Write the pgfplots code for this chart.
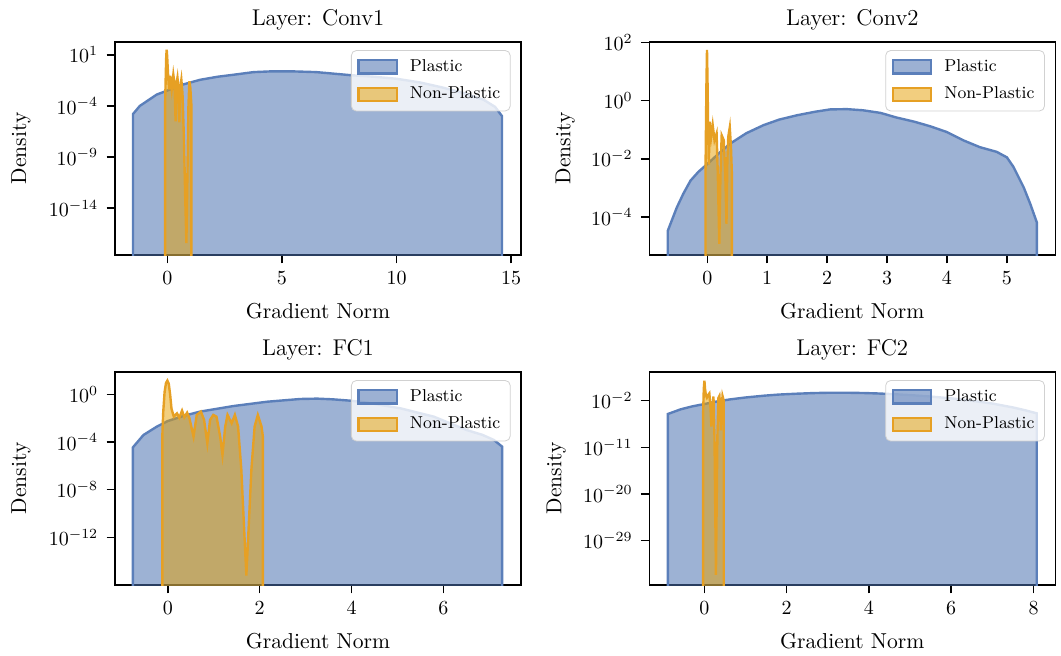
\documentclass[border=0pt]{standalone}
\usepackage{pgfplots}
\pgfplotsset{compat=1.18}
\definecolor{pline}{HTML}{5B7FBA}
\definecolor{pfill}{HTML}{4C72B0}
\definecolor{oline}{HTML}{E6A024}
\definecolor{ofill}{HTML}{E69F00}
\pgfplotsset{
  every axis/.append style={
    scale only axis, width=203pt, height=106.65pt, anchor=south west,
    yminorticks=false, xminorticks=false,
    tick pos=left, tick align=outside, major tick length=4.2pt,
    every tick/.style={black, line width=0.8pt},
    axis line style={line width=0.8pt},
    tick label style={font=\fontsize{10}{12}\selectfont},
    xticklabel style={anchor=base, inner sep=0pt, yshift=-10.5pt},
    yticklabel style={anchor=east, inner sep=0pt, xshift=-4pt},
    every axis title shift=0pt,
    title style={at={(axis description cs:0.5,1.078)}, anchor=base, yshift=0pt, font=\fontsize{11.4}{13}\selectfont},
    xlabel style={at={(axis description cs:0.5,-0.297)}, anchor=base, font=\fontsize{10.8}{12}\selectfont},
    ylabel style={at={(axis description cs:-0.219,0.5)}, anchor=base, font=\fontsize{10.8}{12}\selectfont},
    xlabel={Gradient Norm}, ylabel={Density},
    legend style={at={(rel axis cs:1,1)}, anchor=north east, xshift=-5.2pt, yshift=-4.2pt,
      draw=black!18, rounded corners=2.5pt, fill=white, fill opacity=0.8, draw opacity=1, text opacity=1,
      font=\fontsize{8.6}{10}\selectfont, inner xsep=3pt, inner ysep=2.5pt, row sep=2.3pt,
      cells={anchor=west}, /tikz/every odd column/.append style={column sep=3.9pt}},
    legend image code/.code={\draw[#1, sharp corners] (0pt,-3.35pt) rectangle (19.2pt,3.35pt);},
  },
  plastic/.style={draw=pline, line width=1.2pt, fill=pfill, fill opacity=0.55},
  nonplastic/.style={draw=oline, line width=1.2pt, fill=ofill, fill opacity=0.5},
}
\begin{document}
\begin{tikzpicture}
\useasboundingbox (0,0) rectangle (530.5pt,327.5pt);
% ---------------- Conv1
\begin{axis}[ymode=log, at={(57.5pt,200pt)}, title={Layer: Conv1},
  xmin=-2.285, xmax=15.43, ymin=2.69e-19, ymax=186.2,
  xtick={0,5,10,15}, ytick={1e1,1e-4,1e-9,1e-14}]
\addplot[plastic] coordinates {
(-1.5,1e-25) (-1.5,1.585e-5) (-1.2,1e-4) (-0.8,3.981e-4) (-0.47,1.259e-3) (0,3.162e-3)
(0.7,1.259e-2) (1.43,3.548e-2) (2.2,7.079e-2) (2.88,0.1096) (3.76,0.1995) (4.5,0.2344)
(5.5,0.2344) (6.5,0.1995) (8,0.1) (9,0.07079) (10,0.04467) (11,0.01995) (12,6.31e-3)
(13,1.585e-3) (13.8,3.981e-4) (14.3,7.943e-5) (14.6,1e-5) (14.6,1e-25)};
\addlegendentry{Plastic}
\addplot[nonplastic] coordinates {
(-0.1,1e-25) (-0.1,1e-4) (-0.07,0.1) (-0.05,6.31) (-0.03,30.9) (-0.01,7.943) (0.02,0.3162)
(0.07,3.981e-3) (0.12,0.08913) (0.19,3.981e-3) (0.26,0.1096) (0.31,0.01585) (0.36,3.162e-6)
(0.40,0.01585) (0.44,0.05623) (0.48,6.31e-3) (0.52,2.512e-6) (0.56,6.31e-3) (0.61,0.03548)
(0.66,1.585e-3) (0.72,1e-7) (0.78,1e-13) (0.83,3.981e-18) (0.88,1e-10) (0.92,1e-4)
(0.96,0.02512) (1.0,6.31e-3) (1.05,1e-4) (1.05,1e-25)};
\addlegendentry{Non-Plastic}
\end{axis}
% ---------------- Conv2
\begin{axis}[ymode=log, at={(324.65pt,200pt)}, title={Layer: Conv2},
  ylabel style={at={(axis description cs:-0.1946,0.5)}},
  xmin=-0.968, xmax=5.808, ymin=4.9e-6, ymax=107.2,
  xtick={0,1,2,3,4,5}, ytick={1e2,1e0,1e-2,1e-4}]
\addplot[plastic] coordinates {
(-0.66,1e-8) (-0.66,3.311e-5) (-0.51,2.089e-4) (-0.4,6.31e-4) (-0.28,1.778e-3) (-0.15,3.548e-3)
(0,6.607e-3) (0.2,0.01585) (0.38,0.03311) (0.65,0.07586) (0.94,0.1445) (1.2,0.2239)
(1.5,0.3162) (1.8,0.4169) (2.05,0.5012) (2.33,0.5129) (2.6,0.4677) (2.89,0.3802)
(3.16,0.263) (3.45,0.1905) (3.72,0.1318) (4.0,0.08318) (4.28,0.04266) (4.55,0.02512)
(4.83,0.01738) (5.0,0.01122) (5.11,5.248e-3) (5.28,1.047e-3) (5.39,2.818e-4) (5.5,6.457e-5)
(5.5,1e-8)};
\addlegendentry{Plastic}
\addplot[nonplastic] coordinates {
(-0.03,1e-8) (-0.03,3.162e-3) (-0.015,3.162) (-0.005,56.23) (0.005,3.162) (0.012,0.2138)
(0.025,6.31e-3) (0.04,0.1905) (0.065,0.05754) (0.09,0.1445) (0.12,0.04365) (0.155,0.07413)
(0.175,3.162e-3) (0.20,1.175e-5) (0.22,3.162e-3) (0.24,0.06457) (0.275,0.04365)
(0.30,3.162e-3) (0.32,5.754e-5) (0.335,0.01) (0.35,0.05754) (0.375,0.1202) (0.395,0.02512)
(0.41,3.162e-3) (0.41,1e-8)};
\addlegendentry{Non-Plastic}
\end{axis}
% ---------------- FC1
\begin{axis}[ymode=log, at={(57.5pt,35pt)}, title={Layer: FC1},
  xmin=-1.15, xmax=7.69, ymin=1e-16, ymax=79.4,
  xtick={0,2,4,6}, ytick={1e0,1e-4,1e-8,1e-12}]
\addplot[plastic] coordinates {
(-0.76,1e-20) (-0.76,3.548e-5) (-0.53,3.89e-4) (-0.24,1.95e-3) (0,5.754e-3) (0.35,0.01585)
(0.7,0.03548) (1.43,0.1047) (2.16,0.2399) (2.88,0.4074) (3.25,0.4365) (3.6,0.3802)
(3.97,0.2951) (4.34,0.1995) (5.06,0.06761) (5.79,0.01349) (6.51,1e-3) (6.85,3.981e-4)
(7.1,1.479e-4) (7.28,4.074e-5) (7.28,1e-20)};
\addlegendentry{Plastic}
\addplot[nonplastic] coordinates {
(-0.12,1e-20) (-0.12,2.818e-4) (-0.10,0.03162) (-0.07,1.585) (-0.04,8.913) (-0.01,14.13)
(0.02,7.943) (0.05,1) (0.08,0.0631) (0.13,0.01349) (0.20,0.02512) (0.25,0.01096)
(0.31,0.04266) (0.36,0.01175) (0.42,0.02884) (0.47,0.01) (0.56,2.818e-4) (0.63,0.01862)
(0.72,0.03548) (0.79,7.079e-3) (0.86,7.762e-5) (0.92,7.079e-3) (0.99,0.01862) (1.06,0.01349)
(1.14,2.818e-4) (1.19,8.128e-6) (1.25,1.995e-3) (1.30,0.01862) (1.39,3.715e-3) (1.46,0.01862)
(1.53,1.995e-3) (1.60,5.012e-7) (1.71,6.31e-16) (1.82,5.012e-7) (1.89,1.995e-3) (1.96,0.01862)
(2.04,1.995e-3) (2.07,2.818e-4) (2.07,1e-20)};
\addlegendentry{Non-Plastic}
\end{axis}
% ---------------- FC2
\begin{axis}[ymode=log, at={(324.65pt,35pt)}, title={Layer: FC2},
  ylabel style={at={(axis description cs:-0.2167,0.5)}},
  xmin=-1.34, xmax=8.53, ymin=2.82e-38, ymax=3890,
  xtick={0,2,4,6,8}, ytick={1e-2,1e-11,1e-20,1e-29}]
\addplot[plastic] coordinates {
(-0.89,1e-45) (-0.89,2.692e-5) (-0.58,2.138e-4) (-0.3,7.943e-4) (0,2.291e-3) (0.3,7.079e-3)
(0.63,0.0182) (1.0,0.04169) (1.44,0.0912) (1.8,0.1514) (2.25,0.2239) (2.65,0.2951)
(3.06,0.3467) (3.45,0.3467) (3.87,0.302) (4.2,0.2512) (4.52,0.195) (5.0,0.1202)
(5.5,0.0631) (6.0,0.02818) (6.5,0.01) (7.0,2.818e-3) (7.5,5.012e-4) (7.8,1.413e-4)
(8.08,3.631e-5) (8.08,1e-45)};
\addlegendentry{Plastic}
\addplot[nonplastic] coordinates {
(-0.03,1e-45) (-0.03,1e-4) (-0.015,1.995) (0.0,72.44) (0.015,1.995) (0.035,0.1259)
(0.06,0.03981) (0.09,0.1259) (0.12,0.257) (0.145,1e-3) (0.17,1e-7) (0.195,1e-3) (0.22,0.0631)
(0.245,1e-9) (0.28,2.512e-36) (0.315,1e-9) (0.34,0.03162) (0.365,0.07943) (0.39,1e-4)
(0.40,1.995e-8) (0.415,1e-4) (0.44,0.07943) (0.47,0.01) (0.47,1e-45)};
\addlegendentry{Non-Plastic}
\end{axis}
\end{tikzpicture}
\end{document}
